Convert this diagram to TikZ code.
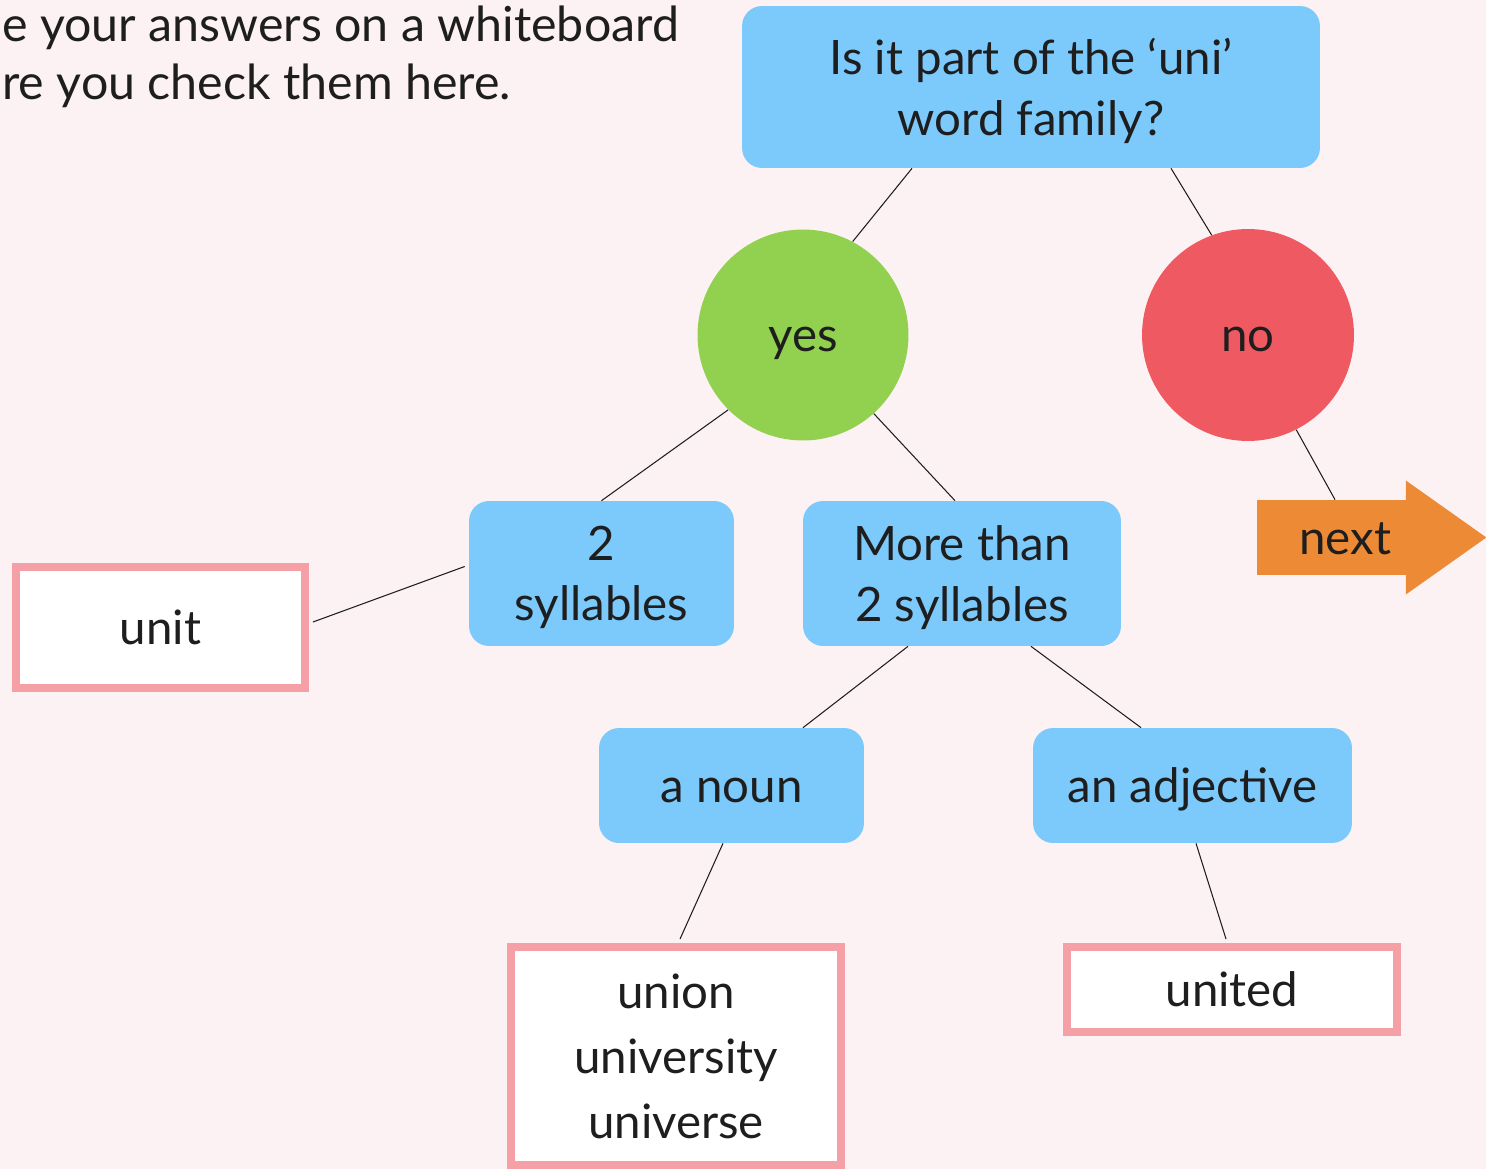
\documentclass[tikz,border=0pt]{standalone}
\usepackage{fontspec}
\setmainfont{Lato}
\usepackage{tikz}
\usetikzlibrary{positioning}
\usetikzlibrary{calc}

\definecolor{fondo}{HTML}{FDF2F3}
\definecolor{azul}{HTML}{7CC9FB}
\definecolor{verde}{HTML}{92D050}
\definecolor{rojo}{HTML}{EF5A62}
\definecolor{naranja}{HTML}{EC8A35}
\definecolor{rosa}{HTML}{F4A0A6}
\definecolor{texto}{HTML}{1E1E1E}

\begin{document}
\begin{tikzpicture}[x=0.02cm, y=-0.02cm,
    every node/.style={text=texto, font=\fontsize{27}{34.5}\selectfont, align=center, inner sep=0pt, text depth=0pt},
    linea/.style={text height=19pt},
    caja/.style={fill=azul, rounded corners=0.4cm},
    respuesta/.style={draw=rosa, line width=0.16cm, fill=white},
    arista/.style={draw=texto, line width=0.6pt}]
              \useasboundingbox[fill=fondo] (0,0) rectangle (1486,1169);

              % Nodos
              \node[anchor=base west, font=\fontsize{27.5}{33}\selectfont] (intro1) at (2,42) {e your answers on a whiteboard};
              \node[anchor=base west, font=\fontsize{27.5}{33}\selectfont] (intro2) at (2,100) {re you check them here.};
              \node[caja, minimum width=11.56cm, minimum height=3.24cm] (familia) at (1031,87) {Is it part of the ‘uni’\\ word family?};
              \node[circle, linea, fill=verde, minimum size=4.22cm] (si) at (803,335) {yes};
              \node[circle, linea, fill=rojo, minimum size=4.24cm] (no) at (1248,335) {no};
              \node[caja, minimum width=5.3cm, minimum height=2.9cm] (dos) at (601.5,573.5) {2\\ syllables};
              \node[caja, minimum width=6.36cm, minimum height=2.9cm] (mas) at (962,573.5) {More than\\ 2 syllables};
              \node[caja, linea, minimum width=5.3cm, minimum height=2.3cm] (sustantivo) at (731.5,785.5) {a noun};
              \node[caja, linea, minimum width=6.38cm, minimum height=2.3cm] (adjetivo) at (1192.5,785.5) {an adjective};
              \node[respuesta, linea, minimum width=5.78cm, minimum height=2.42cm] (unit) at (160.5,627.5) {unit};
              \node[respuesta, minimum width=6.6cm, minimum height=4.36cm, font=\fontsize{27}{37}\selectfont] (union) at (676,1056) {union\\ university\\ universe};
              \node[respuesta, linea, minimum width=6.6cm, minimum height=1.7cm] (united) at (1232,989.5) {united};
              \node[fill=naranja, linea, minimum width=2.98cm, minimum height=1.5cm] (siguiente) at (1331.5,537.5) {\hspace*{0.55cm}next};
              \fill[naranja] ($(siguiente.east)+(-0.5,-57)$) -- ($(siguiente.east)+(80,0)$) -- ($(siguiente.east)+(-0.5,57)$) -- cycle;

              % Aristas
              \draw[arista] ($(familia.south)+(-119,0)$) -- (si.62);
              \draw[arista] ($(familia.south)+(140,0)$) -- (no.110);
              \draw[arista] (si.225) -- (dos.north);
              \draw[arista] (si.-48) -- ($(mas.north)+(-7,0)$);
              \draw[arista] (no.-63) -- ($(siguiente.north)+(3.5,0)$);
              \draw[arista] ($(dos.west)+(-4,-7)$) -- ($(unit.east)+(4,-5.5)$);
              \draw[arista] ($(mas.south)+(-54,0)$) -- ($(sustantivo.north)+(71.5,0)$);
              \draw[arista] ($(mas.south)+(69,0)$) -- ($(adjetivo.north)+(-51.5,0)$);
              \draw[arista] ($(sustantivo.south)+(-8.5,0)$) -- ($(union.north)+(4,-4)$);
              \draw[arista] ($(adjetivo.south)+(3.5,0)$) -- ($(united.north)+(-6,-4)$);
\end{tikzpicture}
\end{document}
